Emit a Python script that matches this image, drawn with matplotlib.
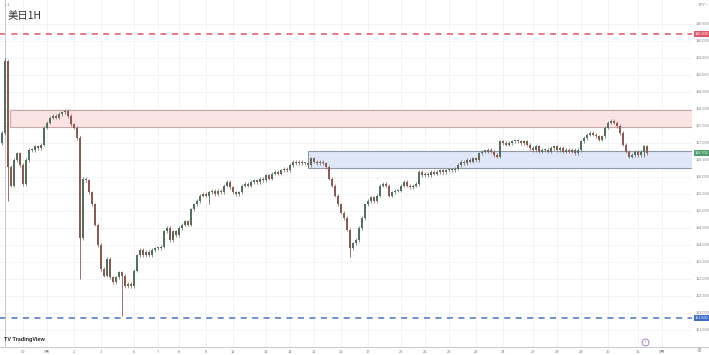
import numpy as np
import matplotlib
matplotlib.use("Agg")
import matplotlib.pyplot as plt
from matplotlib.patches import Rectangle

plt.rcParams['font.family'] = ['Noto Sans CJK SC', 'DejaVu Sans']

# hourly-ish closes (USDJPY), one every ~3 px
CLOSES = [
    157.3, 159.4, 156.3, 155.75, 156.5, 156.7, 156.35, 155.8, 156.5, 156.8,
    156.8, 156.9, 156.85, 156.95, 157.45, 157.6, 157.75, 157.8, 157.75, 157.85,
    157.9, 157.95, 157.8, 157.55, 157.45, 157.15, 154.2, 155.95, 155.9, 155.55,
    155.2, 154.6, 154.0, 153.3, 153.1, 153.6, 153.05, 152.9, 153.05, 153.2,
    153.1, 152.8, 152.85, 152.8, 153.25, 153.7, 153.85, 153.7, 153.8, 153.7,
    153.85, 153.9, 153.9, 153.95, 154.4, 154.5, 154.15, 154.4, 154.3, 154.5,
    154.6, 154.7, 154.6, 155.05, 155.2, 155.3, 155.45, 155.5, 155.45, 155.55,
    155.6, 155.5, 155.6, 155.55, 155.75, 155.85, 155.7, 155.55, 155.5, 155.55,
    155.75, 155.8, 155.75, 155.85, 155.9, 155.85, 155.95, 155.9, 156.05, 155.95,
    156.1, 156.15, 156.1, 156.2, 156.25, 156.2, 156.35, 156.45, 156.4, 156.45,
    156.4, 156.4, 156.35, 156.55, 156.45, 156.4, 156.45, 156.4, 156.3, 155.95,
    155.75, 155.45, 155.2, 154.95, 154.8, 154.45, 153.9, 154.05, 154.15, 154.5,
    154.8, 155.2, 155.3, 155.4, 155.3, 155.45, 155.75, 155.8, 155.75, 155.45,
    155.55, 155.6, 155.6, 155.75, 155.85, 155.75, 155.7, 155.75, 155.8, 156.15,
    156.05, 156.1, 156.05, 156.15, 156.1, 156.15, 156.2, 156.15, 156.2, 156.2,
    156.2, 156.25, 156.35, 156.45, 156.4, 156.5, 156.45, 156.55, 156.5, 156.7,
    156.75, 156.75, 156.8, 156.75, 156.65, 156.6, 157.05, 157.0, 156.95, 157.0,
    157.05, 157.05, 157.05, 157.0, 157.05, 156.95, 156.85, 156.8, 156.9, 156.75,
    156.8, 156.8, 156.75, 156.85, 156.9, 156.8, 156.85, 156.75, 156.8, 156.75,
    156.8, 156.7, 156.8, 157.05, 157.15, 157.25, 157.3, 157.25, 157.2, 157.1,
    157.2, 157.45, 157.6, 157.65, 157.6, 157.5, 157.3, 156.95, 156.75, 156.6,
    156.65, 156.75, 156.65, 156.75, 156.9, 156.7,
]
FIRST_OPEN = 157.0

# the few long wicks that stand out
WICK_BARS = [1, 2, 26, 40, 69, 116, 214]
WICK_HIGH = [159.5, 159.45, 157.2, 153.2, 155.6, 154.0, 156.95]
WICK_LOW = [157.3, 155.3, 153.0, 151.9, 155.2, 153.65, 156.6]

RED_LEVEL = 160.208
BLUE_LEVEL = 151.860
LAST_PRICE = 156.702
RED_ZONE = (2.7, 157.47, 157.97)    # start bar, low, high
BLUE_ZONE = (102.0, 156.26, 156.77)

Y_TICKS = [160.5, 160.0, 159.5, 159.0, 158.5, 158.0, 157.5, 157.0, 156.5, 156.0,
           155.5, 155.0, 154.5, 154.0, 153.5, 153.0, 152.5, 152.0, 151.5]
X_TICK_BARS = [7, 15, 24, 33, 44, 52, 59, 68, 77, 88, 96, 104, 113, 122, 133,
               141, 149, 158, 167, 177, 185, 193, 202, 212, 220]
X_TICK_LABELS = ['30', '5月', '2', '3', '6', '7', '8', '9', '10', '13', '14', '15',
                 '16', '17', '20', '21', '22', '23', '24', '27', '28', '29', '30',
                 '31', '6月']

UP = '#56705f'
DOWN = '#8d5a52'
GRID = '#f1f2f5'
TXT = '#7a7d86'
SMALL = ['Liberation Sans', 'Noto Sans CJK SC', 'DejaVu Sans']

fig = plt.figure(figsize=(7.09, 3.55), dpi=100)
ax = fig.add_axes([0, 8 / 355, 692 / 709, 347 / 355])
ax.set_xlim(-2 / 3, 230)
ax.set_ylim(151.0, 161.206)

closes = np.array(CLOSES)
opens = np.concatenate([[FIRST_OPEN], closes[:-1]])
idx = np.arange(len(closes))

# grid
for t in Y_TICKS:
    ax.axhline(t, color=GRID, lw=0.6, zorder=0)
for b in X_TICK_BARS:
    ax.axvline(b, color=GRID, lw=0.6, zorder=0)

# zones
ax.add_patch(Rectangle((RED_ZONE[0], RED_ZONE[1]), 240, RED_ZONE[2] - RED_ZONE[1],
                       facecolor='#fde4e4', edgecolor='#c4aaa6', lw=0.8, zorder=1))
ax.add_patch(Rectangle((BLUE_ZONE[0], BLUE_ZONE[1]), 240, BLUE_ZONE[2] - BLUE_ZONE[1],
                       facecolor='#dfe7f8', edgecolor='#8e99a6', lw=0.8, zorder=1))

# level lines
ax.axhline(RED_LEVEL, color='#e0566a', lw=1.1, ls=(0, (4, 3.5)), zorder=2)
ax.axhline(BLUE_LEVEL, color='#4a74c4', lw=1.1, ls=(0, (4, 3.5)), zorder=2)

# candles
up = closes >= opens
cols = np.where(up, UP, DOWN)
body = np.maximum(np.abs(closes - opens), 0.03)
ax.bar(idx, body, bottom=np.minimum(opens, closes), width=0.5, color=cols,
       linewidth=0, zorder=3)
ax.vlines(idx, np.minimum(opens, closes) - 0.05, np.maximum(opens, closes) + 0.05,
          colors=cols, lw=0.5, zorder=3)
wc = [UP if closes[b] >= opens[b] else DOWN for b in WICK_BARS]
ax.vlines(WICK_BARS, WICK_LOW, WICK_HIGH, colors=wc, lw=0.6, zorder=3)

for s in ax.spines.values():
    s.set_visible(False)
ax.set_xticks([])
ax.set_yticks([])

# right price scale
tr = ax.get_yaxis_transform()
ax.axvline(1.0, color='#c9ccd3', lw=0.8)
for t in Y_TICKS:
    ax.text(1.0055, t, f'{t:.3f}', transform=tr, fontsize=2.7, color=TXT,
            family=SMALL, ha='left', va='center', clip_on=False)
for val, c in [(RED_LEVEL, '#e0566a'), (LAST_PRICE, '#4f9a6c'), (BLUE_LEVEL, '#3c6cc8')]:
    ax.text(1.0045, val, f'{val:.3f}', transform=tr, fontsize=2.7, color='white',
            family=SMALL, ha='left', va='center', clip_on=False,
            bbox=dict(boxstyle='square,pad=0.3', fc=c, ec='none'))
ax.text(1.008, 161.05, 'JPY ~', transform=tr, fontsize=2.7, color=TXT,
        family=SMALL, ha='left', va='center', clip_on=False)

# time scale
fig.add_artist(plt.Line2D([0, 1], [8 / 355, 8 / 355], color='#c9ccd3', lw=0.8))
for b, lab in zip(X_TICK_BARS, X_TICK_LABELS):
    ax.text(b, -0.01, lab, transform=ax.get_xaxis_transform(), fontsize=2.9,
            color=TXT, family=SMALL, ha='center', va='top', clip_on=False)
fig.text(699 / 709, 4 / 355, '⚙', fontsize=4, color=TXT, ha='center', va='center',
         family='DejaVu Sans')

# purple marker near the bottom
ax.plot([214.3], [151.15], marker='o', ms=5, mfc='none', mec='#a06cc0', mew=0.6,
        zorder=4)
ax.text(214.3, 151.15, '!', fontsize=2.8, color='#a06cc0', ha='center', va='center',
        family='DejaVu Sans')

# header / branding
ax.text(8 / 692, 1 - 16 / 347, '美日1H', transform=ax.transAxes, fontsize=7.5,
        color='#333333', ha='left', va='center')
ax.text(4 / 692, 1 - 5 / 347, '+ 1', transform=ax.transAxes, fontsize=3, color=TXT,
        ha='left', va='center')
ax.text(4 / 692, 1 - 339 / 347, 'TV TradingView', transform=ax.transAxes, fontsize=4,
        color='#222222', ha='left', va='center', weight='bold', family=SMALL)

fig.savefig('out.png', dpi=100)
